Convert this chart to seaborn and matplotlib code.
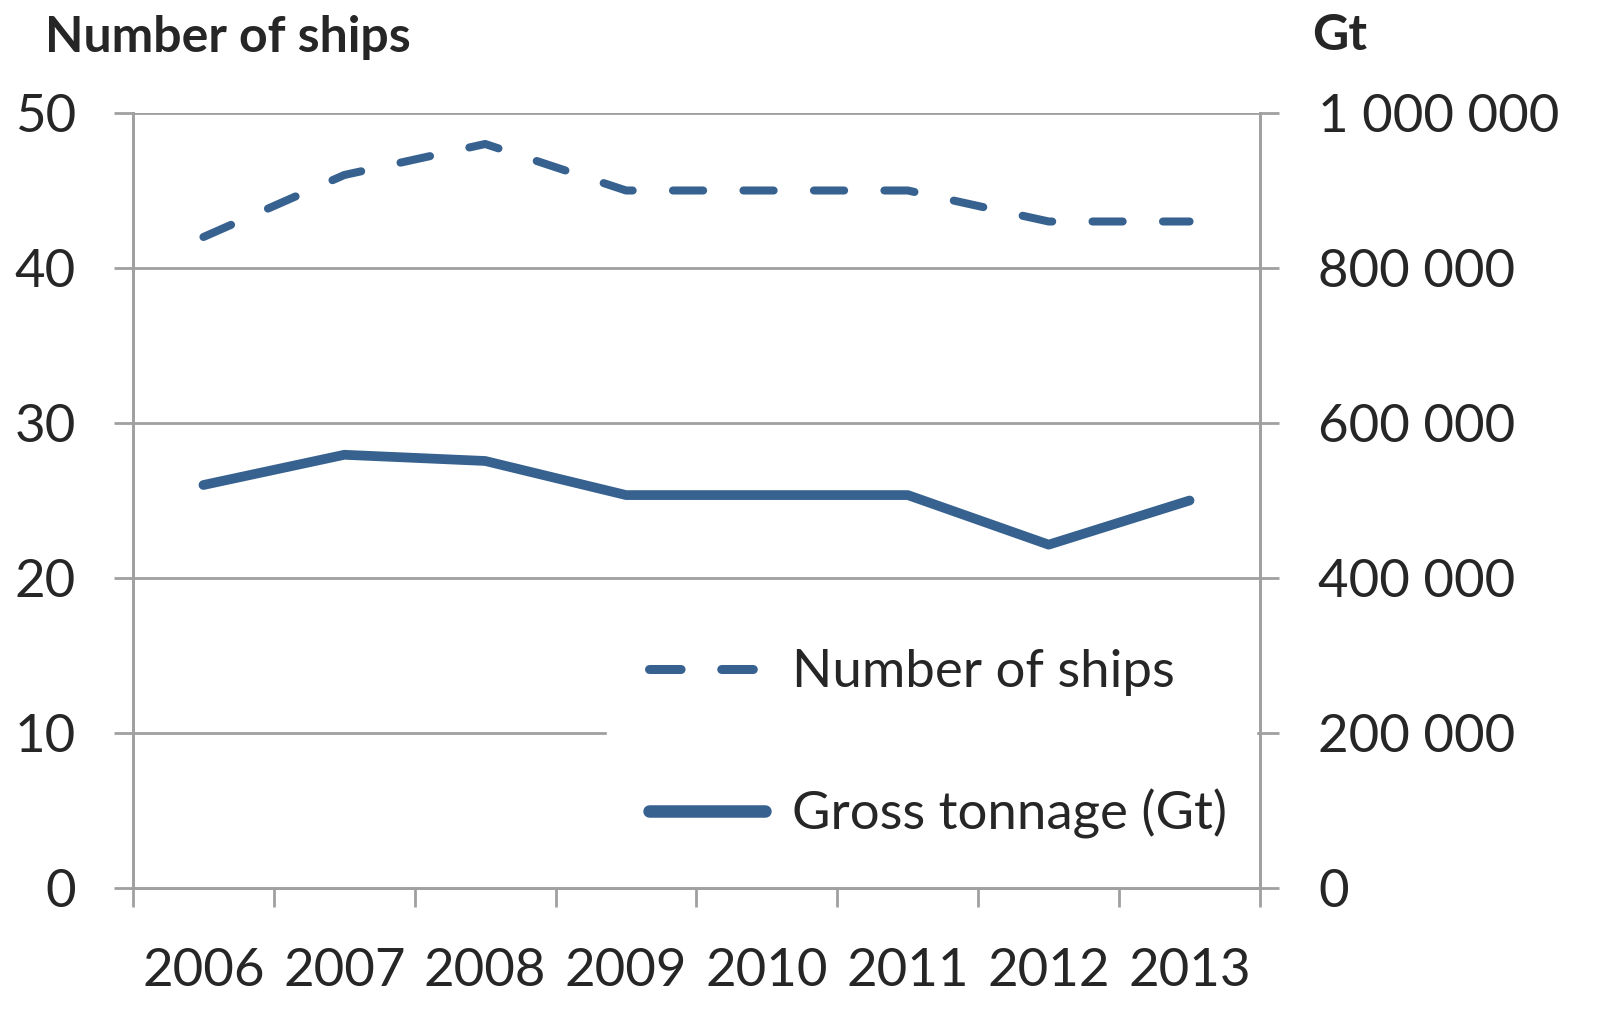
import numpy as np
import pandas as pd
import matplotlib
matplotlib.use("Agg")
import matplotlib.pyplot as plt
from matplotlib.ticker import FixedLocator, FuncFormatter
from matplotlib.lines import Line2D
import seaborn as sns

# Data
years = ["2006", "2007", "2008", "2009", "2010", "2011", "2012", "2013"]
ships = [42, 46, 48, 45, 45, 45, 43, 43]
gross_tonnage = [520000, 559000, 551000, 507000, 507000, 507000, 443000, 500000]

LINE_COLOR = "#37618F"
GRID_COLOR = "#A0A0A0"


def build_frame():
    df = pd.DataFrame({"pos": np.arange(len(years)), "Year": years,
                       "Ships": ships, "Gt": gross_tonnage})
    return df


def space_thousands(v, _pos=None):
    return f"{int(round(v)):,}".replace(",", " ")


def draw(df):
    sns.set_style("white")
    plt.rcParams["font.family"] = ["Lato", "DejaVu Sans"]
    fs = 38

    fig = plt.figure(figsize=(16.24, 10.26), dpi=100)
    ax = fig.add_axes([133 / 1624, 138 / 1026, 1127 / 1624, 775 / 1026])
    ax2 = ax.twinx()

    sns.lineplot(data=df, x="pos", y="Ships", ax=ax, color=LINE_COLOR,
                 linewidth=5.8, legend=False)
    ax.lines[0].set_dashes([3.75, 5])
    ax.lines[0].set_dash_capstyle("round")
    sns.lineplot(data=df, x="pos", y="Gt", ax=ax2, color=LINE_COLOR,
                 linewidth=7, legend=False)
    ax2.lines[0].set_solid_capstyle("round")

    ax.set_xlim(-0.5, len(years) - 0.5)
    ax.set_ylim(0, 50)
    ax2.set_ylim(0, 1000000)

    # horizontal gridlines on left axis
    ax.set_yticks([0, 10, 20, 30, 40, 50])
    for v in [10, 20, 30, 40, 50]:
        ax.axhline(v, color=GRID_COLOR, linewidth=2, zorder=0)
    ax2.set_yticks([0, 200000, 400000, 600000, 800000, 1000000])
    ax2.yaxis.set_major_formatter(FuncFormatter(space_thousands))

    # category boundaries as ticks, labels at the centres
    ax.set_xticks(np.arange(len(years)))
    ax.set_xticklabels(years)
    ax.xaxis.set_minor_locator(FixedLocator(np.arange(-0.5, len(years), 1.0)))
    ax.tick_params(axis="x", which="major", length=0, pad=43, labelsize=fs)
    ax.tick_params(axis="x", which="minor", length=14, width=2,
                   color=GRID_COLOR, direction="out", bottom=True)
    ax.tick_params(axis="y", length=14, width=2, color=GRID_COLOR,
                   direction="out", pad=27, labelsize=fs, left=True)
    ax2.tick_params(axis="y", length=14, width=2, color=GRID_COLOR,
                    direction="out", pad=28, labelsize=fs, right=True)

    ax.set_xlabel("")
    ax.set_ylabel("")
    ax2.set_ylabel("")
    for a in (ax, ax2):
        for side, sp in a.spines.items():
            sp.set_color(GRID_COLOR)
            sp.set_linewidth(2)
        a.spines["top"].set_visible(False)

    handles = [
        Line2D([], [], color=LINE_COLOR, linewidth=6.5, dashes=[3.5, 4.5],
               dash_capstyle="round"),
        Line2D([], [], color=LINE_COLOR, linewidth=9, solid_capstyle="round"),
    ]
    leg = ax2.legend(handles, ["Number of ships", "Gross tonnage (Gt)"],
                     loc="lower left", bbox_to_anchor=(0.4206, 0.009, 0.576, 0.3),
                     mode="expand", frameon=True, fontsize=fs,
                     handlelength=2.2, handletextpad=0.5, labelspacing=1.75,
                     borderpad=0.8, borderaxespad=0)
    leg.get_frame().set_facecolor("white")
    leg.get_frame().set_edgecolor("white")
    leg.get_frame().set_alpha(1)
    leg.get_frame().set_boxstyle("square", pad=0)

    fig.text(45 / 1624, 1 - 37 / 1026, "Number of ships", fontsize=36,
             fontweight="bold", ha="left", va="center")
    fig.text(1312 / 1624, 1 - 35 / 1026, "Gt", fontsize=36,
             fontweight="bold", ha="left", va="center")

    fig.savefig("out.png", dpi=100, facecolor="white")


def main():
    df = build_frame()
    draw(df)


if __name__ == "__main__":
    main()
